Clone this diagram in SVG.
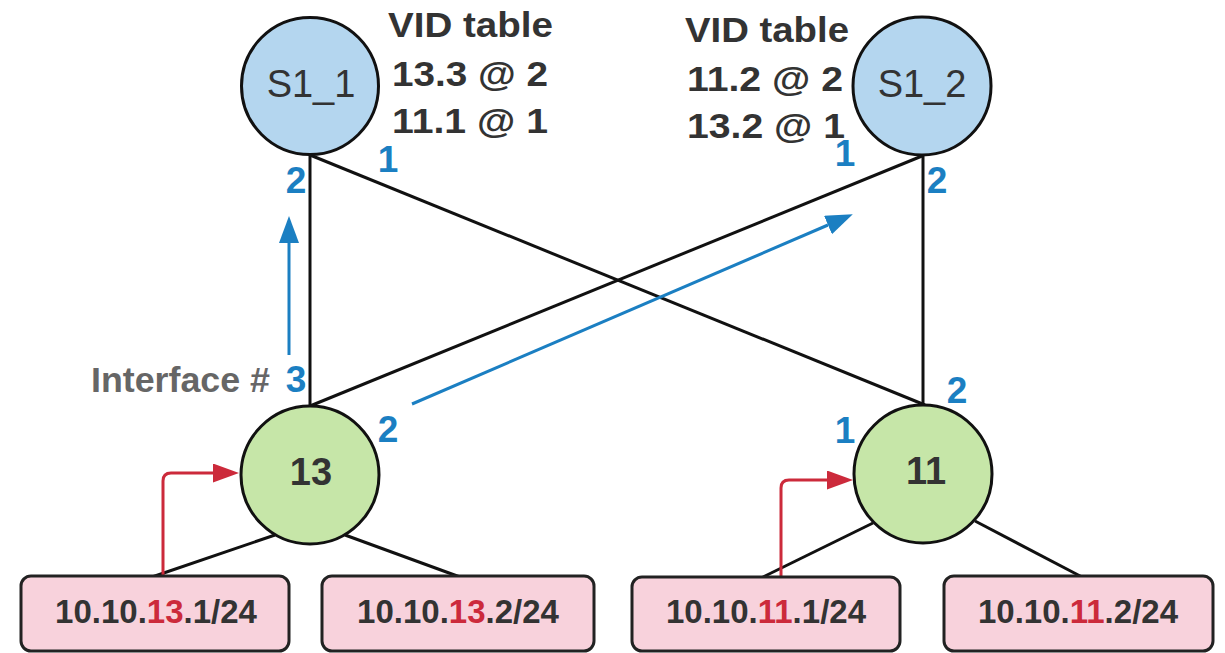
<svg xmlns="http://www.w3.org/2000/svg" width="1225" height="653" viewBox="0 0 1225 653">
<defs>
<marker id="bh" markerUnits="userSpaceOnUse" markerWidth="28" markerHeight="21" refX="0" refY="10" orient="auto"><path d="M0,0 L27,10 L0,20 z" fill="#1b7fc2"/></marker>
<marker id="rh" markerUnits="userSpaceOnUse" markerWidth="28" markerHeight="20" refX="0" refY="9.5" orient="auto"><path d="M0,0 L26,9.5 L0,19 z" fill="#cc2a3b"/></marker>
<style>
.ln{stroke:#111;stroke-width:3;fill:none}
.bl{stroke:#1b7fc2;stroke-width:3;fill:none}
.rd{stroke:#cc2a3b;stroke-width:3;fill:none}
.sw{fill:#b4d6ef;stroke:#111;stroke-width:3}
.hs{fill:#c6e6a8;stroke:#111;stroke-width:3}
.bx{fill:#f8d2dc;stroke:#222;stroke-width:3}
text{font-family:"Liberation Sans",Arial,sans-serif}
.vid{font-size:35px;font-weight:bold;fill:#333}
.pt{font-size:37px;font-weight:bold;fill:#1b7fc2;text-anchor:middle}
.nm{font-size:38px;fill:#333;text-anchor:middle}
.nb{font-size:38px;font-weight:bold;fill:#333;text-anchor:middle}
.ip{font-size:33px;font-weight:bold;fill:#333;text-anchor:middle}
.r{fill:#cc2a3b}
</style>
</defs>
<rect width="1225" height="653" fill="#fff"/>
<g id="connectors">
<line class="ln" x1="310" y1="155" x2="310" y2="406"/>
<line class="ln" x1="310" y1="155" x2="925" y2="405"/>
<line class="ln" x1="922" y1="156" x2="310" y2="406"/>
<line class="ln" x1="923" y1="156" x2="923" y2="405"/>
<line class="ln" x1="275" y1="535" x2="152" y2="577"/>
<line class="ln" x1="345" y1="535" x2="460" y2="577"/>
<line class="ln" x1="873" y1="523" x2="763" y2="577"/>
<line class="ln" x1="975" y1="521" x2="1082" y2="577"/>
<line class="bl" x1="289" y1="355" x2="289" y2="243" marker-end="url(#bh)"/>
<line class="bl" x1="412" y1="404" x2="828" y2="225" marker-end="url(#bh)"/>
<path class="rd" d="M163,576 V481 Q163,473 171,473 H213" marker-end="url(#rh)"/>
<path class="rd" d="M781,577 V488 Q781,480 789,480 H827" marker-end="url(#rh)"/>
</g>
<g id="S1_1"><circle class="sw" cx="310" cy="86" r="68.5"/><text class="nm" x="311" y="97">S1_1</text></g>
<g id="S1_2"><circle class="sw" cx="922" cy="86" r="69"/><text class="nm" x="922" y="97">S1_2</text></g>
<g id="n13"><circle class="hs" cx="310" cy="475" r="69"/><text class="nb" x="311" y="485">13</text></g>
<g id="n11"><circle class="hs" cx="923" cy="474" r="69"/><text class="nb" x="926" y="484">11</text></g>
<g id="box1"><rect class="bx" x="21" y="576" width="268" height="75" rx="10"/><text class="ip" x="156" y="623">10.10.<tspan class="r">13</tspan>.1/24</text></g>
<g id="box2"><rect class="bx" x="322" y="576" width="272" height="75" rx="10"/><text class="ip" x="458" y="623">10.10.<tspan class="r">13</tspan>.2/24</text></g>
<g id="box3"><rect class="bx" x="632" y="577" width="268" height="74" rx="10"/><text class="ip" x="766" y="623">10.10.<tspan class="r">11</tspan>.1/24</text></g>
<g id="box4"><rect class="bx" x="944" y="576" width="269" height="75" rx="10"/><text class="ip" x="1078" y="623">10.10.<tspan class="r">11</tspan>.2/24</text></g>
<g id="vid1">
<text class="vid" x="388" y="37" textLength="165" lengthAdjust="spacingAndGlyphs">VID table</text>
<text class="vid" x="392" y="86" textLength="156" lengthAdjust="spacingAndGlyphs">13.3 @ 2</text>
<text class="vid" x="392" y="133" textLength="156" lengthAdjust="spacingAndGlyphs">11.1 @ 1</text>
</g>
<g id="vid2">
<text class="vid" x="685" y="42" textLength="164" lengthAdjust="spacingAndGlyphs">VID table</text>
<text class="vid" x="687" y="91" textLength="156" lengthAdjust="spacingAndGlyphs">11.2 @ 2</text>
<text class="vid" x="687" y="138" textLength="158" lengthAdjust="spacingAndGlyphs">13.2 @ 1</text>
</g>
<g id="ports">
<text class="pt" x="388" y="172">1</text>
<text class="pt" x="296" y="193">2</text>
<text class="pt" x="845" y="166">1</text>
<text class="pt" x="937" y="193">2</text>
<text class="pt" x="296" y="392">3</text>
<text class="pt" x="388" y="442">2</text>
<text class="pt" x="845" y="443">1</text>
<text class="pt" x="957" y="403">2</text>
</g>
<text id="iface" x="91" y="392" font-size="35" font-weight="bold" fill="#666" textLength="179" lengthAdjust="spacingAndGlyphs">Interface #</text>
</svg>
